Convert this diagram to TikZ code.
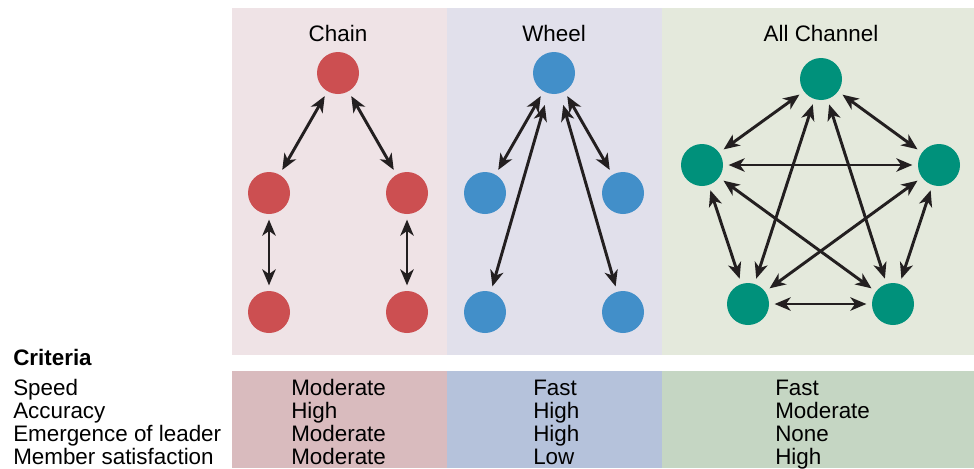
\documentclass[tikz,border=0pt]{standalone}
\usepackage{fontspec}
\setmainfont{Liberation Sans}
\usetikzlibrary{arrows.meta}
\definecolor{chainbg}{HTML}{EFE3E6}
\definecolor{wheelbg}{HTML}{E1E0EB}
\definecolor{allbg}{HTML}{E4E9DC}
\definecolor{chaincell}{HTML}{D9BBBE}
\definecolor{wheelcell}{HTML}{B5C2DB}
\definecolor{allcell}{HTML}{C5D6C3}
\definecolor{chainred}{HTML}{CC4F51}
\definecolor{wheelblue}{HTML}{428FC9}
\definecolor{allteal}{HTML}{00917B}
\definecolor{arrowink}{HTML}{231F20}
\def\textsz{\fontsize{16.8}{20}\selectfont}

\begin{document}
\begin{tikzpicture}[x=0.75pt,y=-0.75pt,
	member/.style={circle,minimum size=31.5pt,inner sep=0pt},
	link/.style={{Stealth[length=12pt,width=10pt,inset=3.5pt]}-{Stealth[length=12pt,width=10pt,inset=3.5pt]},line width=2.2pt,draw=arrowink,shorten <=4pt,shorten >=4pt},
	title/.style={anchor=base,inner sep=0pt,font=\textsz},
	cell/.style={anchor=base west,inner sep=0pt,font=\textsz}]
			\useasboundingbox (0,0) rectangle (974,468);
			%%%%% PANELS %%%%%
			\fill[chainbg] (232,8) rectangle (447,355);
			\fill[wheelbg] (447,8) rectangle (662,355);
			\fill[allbg] (662,8) rectangle (974,355);
			\fill[chaincell] (232,371) rectangle (447,468);
			\fill[wheelcell] (447,371) rectangle (662,468);
			\fill[allcell] (662,371) rectangle (974,468);
			
			\node[title] (tchain) at (338,41) {Chain};
			\node[title] (twheel) at (554,41) {Wheel};
			\node[title] (tall) at (821,41) {All Channel};
			
			%%%%% CHAIN %%%%%
			\node[member,fill=chainred] (c1) at (338,73) {};
			\node[member,fill=chainred] (c2) at (269,193) {};
			\node[member,fill=chainred] (c3) at (407,193) {};
			\node[member,fill=chainred] (c4) at (269,312) {};
			\node[member,fill=chainred] (c5) at (407,312) {};
			\draw[link] (c1) -- (c2);
			\draw[link] (c1) -- (c3);
			\draw[link] (c2) -- (c4);
			\draw[link] (c3) -- (c5);
			
			%%%%% WHEEL %%%%%
			\node[member,fill=wheelblue] (w1) at (554,73) {};
			\node[member,fill=wheelblue] (w2) at (485,193) {};
			\node[member,fill=wheelblue] (w3) at (623,193) {};
			\node[member,fill=wheelblue] (w4) at (485,312) {};
			\node[member,fill=wheelblue] (w5) at (623,312) {};
			\draw[link] (w1) -- (w2);
			\draw[link] (w1) -- (w3);
			\draw[link,shorten <=9pt] (w1) -- (w4);
			\draw[link,shorten <=9pt] (w1) -- (w5);
			
			%%%%% ALL CHANNEL %%%%%
			\node[member,fill=allteal] (a1) at (821,79) {};
			\node[member,fill=allteal] (a2) at (702,165) {};
			\node[member,fill=allteal] (a3) at (939,165) {};
			\node[member,fill=allteal] (a4) at (748,304) {};
			\node[member,fill=allteal] (a5) at (893,304) {};
			\draw[link] (a1) -- (a2);
			\draw[link] (a1) -- (a3);
			\draw[link] (a1) -- (a4);
			\draw[link] (a1) -- (a5);
			\draw[link] (a2) -- (a3);
			\draw[link] (a2) -- (a4);
			\draw[link] (a2) -- (a5);
			\draw[link] (a3) -- (a4);
			\draw[link] (a3) -- (a5);
			\draw[link] (a4) -- (a5);
			
			%%%%% CRITERIA %%%%%
			\node[cell,font=\textsz\bfseries] (crit) at (13,365) {Criteria};
			\node[cell] (speed) at (13,395) {Speed};
			\node[cell] (acc) at (13,418) {Accuracy};
			\node[cell] (lead) at (13,441) {Emergence of leader};
			\node[cell] (sat) at (13,464) {Member satisfaction};
			
			\node[cell] (cspeed) at (291,395) {Moderate};
			\node[cell] (cacc) at (291,418) {High};
			\node[cell] (clead) at (291,441) {Moderate};
			\node[cell] (csat) at (291,464) {Moderate};
			
			\node[cell] (wspeed) at (533,395) {Fast};
			\node[cell] (wacc) at (533,418) {High};
			\node[cell] (wlead) at (533,441) {High};
			\node[cell] (wsat) at (533,464) {Low};
			
			\node[cell] (aspeed) at (775,395) {Fast};
			\node[cell] (aacc) at (775,418) {Moderate};
			\node[cell] (alead) at (775,441) {None};
			\node[cell] (asat) at (775,464) {High};
			%%%%% END %%%%%
\end{tikzpicture}
\end{document}
